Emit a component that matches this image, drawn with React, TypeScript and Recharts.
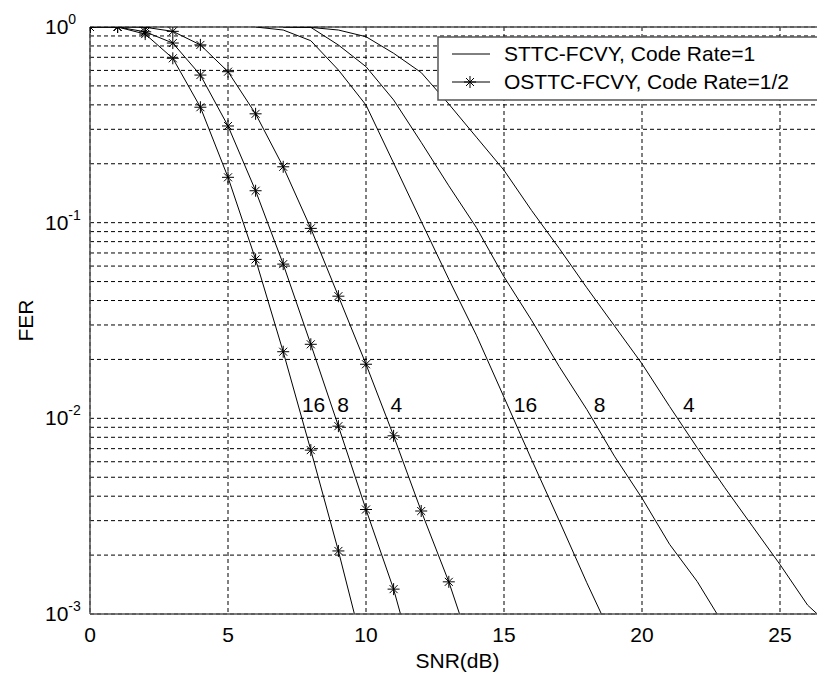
import React from 'react';
import { LineChart, Line, XAxis, YAxis, CartesianGrid, ReferenceLine, ReferenceDot, Legend } from 'recharts';

const FONT = '"Liberation Sans", Arial, Helvetica, sans-serif';

// STTC-FCVY, Code Rate = 1 (no markers)
const sttc16Snr = [6, 7, 8, 9, 10, 11, 12, 13, 14, 15, 16, 17, 18, 18.53];
const sttc16Fer = [1.0, 0.965, 0.851, 0.603, 0.399, 0.2017, 0.1016, 0.0514, 0.0266, 0.01282, 0.00615, 0.003, 0.001445, 0.001];
const sttc8Snr = [7, 8, 9, 10, 11, 12, 13, 14, 15, 16, 17, 18, 19, 20, 21, 22, 22.72];
const sttc8Fer = [1.0, 0.996, 0.809, 0.627, 0.424, 0.2574, 0.1543, 0.0944, 0.0529, 0.0317, 0.0184, 0.0111, 0.00641, 0.00391, 0.00227, 0.001466, 0.001];
const sttc4Snr = [7, 8, 9, 10, 11, 12, 13, 14, 15, 16, 17, 18, 19, 20, 21, 22, 23, 24, 25, 26, 26.35];
const sttc4Fer = [1.0, 0.995, 0.965, 0.892, 0.734, 0.585, 0.404, 0.2735, 0.1853, 0.1154, 0.0739, 0.0465, 0.0297, 0.019, 0.0115, 0.00707, 0.00442, 0.00281, 0.00179, 0.00111, 0.001];

// OSTTC-FCVY, Code Rate = 1/2 (star markers)
const osttc16Snr = [0, 1, 2, 3, 4, 5, 6, 7, 8, 9, 9.58];
const osttc16Fer = [1, 1, 0.92, 0.692, 0.389, 0.1705, 0.0649, 0.0219, 0.00688, 0.0021, 0.001];
const osttc8Snr = [0, 1, 2, 3, 4, 5, 6, 7, 8, 9, 10, 11, 11.25];
const osttc8Fer = [1, 1, 0.945, 0.828, 0.568, 0.312, 0.1456, 0.0614, 0.0239, 0.00912, 0.00342, 0.00134, 0.001];
const osttc4Snr = [0, 1, 2, 3, 4, 5, 6, 7, 8, 9, 10, 11, 12, 13, 13.39];
const osttc4Fer = [1, 1, 0.997, 0.95, 0.81, 0.591, 0.36, 0.193, 0.0935, 0.0421, 0.0189, 0.00814, 0.00336, 0.00146, 0.001];

// curve annotations
const labelTexts = ['16', '8', '4', '16', '8', '4'];
const labelSnr = [8.1, 9.17, 11.1, 15.78, 18.46, 21.7];
const labelFer = [0.01175, 0.01175, 0.01175, 0.01175, 0.01175, 0.01175];

const xTicks = [0, 5, 10, 15, 20, 25];
const yTicks = [
  0.001, 0.002, 0.003, 0.004, 0.005, 0.006, 0.007, 0.008, 0.009,
  0.01, 0.02, 0.03, 0.04, 0.05, 0.06, 0.07, 0.08, 0.09,
  0.1, 0.2, 0.3, 0.4, 0.5, 0.6, 0.7, 0.8, 0.9, 1,
];

const legendNames = ['STTC-FCVY, Code Rate=1', 'OSTTC-FCVY, Code Rate=1/2'];

const toPoints = (snr: number[], fer: number[]) => snr.map((s, i) => ({ snr: s, fer: fer[i] }));

const Star = ({ cx, cy }: { cx: number; cy: number }) => (
  <g stroke="#000" strokeWidth={1}>
    <line x1={cx - 6} y1={cy} x2={cx + 6} y2={cy} />
    <line x1={cx} y1={cy - 6} x2={cx} y2={cy + 6} />
    <line x1={cx - 4} y1={cy - 4} x2={cx + 4} y2={cy + 4} />
    <line x1={cx - 4} y1={cy + 4} x2={cx + 4} y2={cy - 4} />
  </g>
);

const starDot = (props: any) => {
  const { cx, cy, payload, index } = props;
  if (!payload || payload.fer <= 0.001 || cx == null || cy == null) return <g key={`e${index}`} />;
  return <g key={`s${index}`}><Star cx={cx} cy={cy} /></g>;
};

const YTick = (props: any) => {
  const { y, payload } = props;
  const v = payload.value;
  const e = Math.round(Math.log10(v));
  if (Math.abs(v - Math.pow(10, e)) > 1e-9) return <g />;
  return (
    <text x={37} y={y + 7} fontSize={21} fontFamily={FONT} fill="#000">
      10<tspan dy={-10} fontSize={14}>{String(e)}</tspan>
    </text>
  );
};

const XTick = (props: any) => {
  const { x, y, payload } = props;
  return (
    <text x={x} y={y + 28} fontSize={21} fontFamily={FONT} fill="#000" textAnchor="middle">
      {payload.value}
    </text>
  );
};

const XLabel = (props: any) => {
  const { viewBox } = props;
  return (
    <text x={viewBox.x + viewBox.width / 2} y={viewBox.y + 54} fontSize={21} fontFamily={FONT} fill="#000" textAnchor="middle">
      SNR(dB)
    </text>
  );
};

const YLabel = (props: any) => {
  const { viewBox } = props;
  const cy = viewBox.y + viewBox.height / 2;
  return (
    <text x={25} y={cy} fontSize={21} fontFamily={FONT} fill="#000" textAnchor="middle" transform={`rotate(-90, 25, ${cy})`}>
      FER
    </text>
  );
};

const LegendBox = () => (
  <svg width={386} height={66} style={{ display: 'block' }}>
    <rect x={1} y={1} width={383} height={63} fill="#fff" stroke="#555" strokeWidth={1.5} />
    <line x1={15} y1={18} x2={53} y2={18} stroke="#000" strokeWidth={1} />
    <text x={67} y={25} fontSize={21} fontFamily={FONT} fill="#000">{legendNames[0]}</text>
    <line x1={15} y1={46} x2={53} y2={46} stroke="#000" strokeWidth={1} />
    <Star cx={33} cy={46} />
    <text x={67} y={53} fontSize={21} fontFamily={FONT} fill="#000">{legendNames[1]}</text>
  </svg>
);

const CurveLabel = (props: any) => {
  const { viewBox, value } = props;
  const cx = viewBox.x + (viewBox.width || 0) / 2;
  const cy = viewBox.y + (viewBox.height || 0) / 2;
  return (
    <text x={cx} y={cy + 7.5} fontSize={21} fontFamily={FONT} fill="#000" textAnchor="middle">
      {value}
    </text>
  );
};

export default function App() {
  const sttc = [toPoints(sttc16Snr, sttc16Fer), toPoints(sttc8Snr, sttc8Fer), toPoints(sttc4Snr, sttc4Fer)];
  const osttc = [toPoints(osttc16Snr, osttc16Fer), toPoints(osttc8Snr, osttc8Fer), toPoints(osttc4Snr, osttc4Fer)];
  return (
    <div style={{ width: 817, height: 668, position: 'relative' }}>
      <LineChart width={817} height={668} margin={{ top: 19, right: 0, bottom: 0, left: 0 }}>
        <CartesianGrid stroke="#000" strokeDasharray="4 3" strokeWidth={1} />
        <XAxis
          dataKey="snr"
          type="number"
          domain={[0, 26.63]}
          ticks={xTicks}
          allowDataOverflow
          height={62}
          tickSize={0}
          tickMargin={0}
          tickLine={false}
          tick={<XTick />}
          axisLine={{ stroke: '#555', strokeWidth: 1.5 }}
          label={<XLabel />}
        />
        <YAxis
          dataKey="fer"
          type="number"
          scale="log"
          domain={[0.001, 1]}
          ticks={yTicks}
          allowDataOverflow
          width={82}
          tickSize={0}
          tickMargin={0}
          tickLine={false}
          tick={<YTick />}
          interval={0}
          axisLine={{ stroke: '#555', strokeWidth: 1.5 }}
          label={<YLabel />}
        />
        <ReferenceLine y={1} stroke="#555" strokeWidth={1.5} />
        {sttc.map((d, i) => (
          <Line key={`sttc${i}`} data={d} dataKey="fer" type="linear" stroke="#000" strokeWidth={1} dot={false} isAnimationActive={false} />
        ))}
        {osttc.map((d, i) => (
          <Line key={`osttc${i}`} data={d} dataKey="fer" type="linear" stroke="#000" strokeWidth={1} dot={starDot} activeDot={false} isAnimationActive={false} />
        ))}
        {labelTexts.map((t, i) => (
          <ReferenceDot key={`lab${i}`} x={labelSnr[i]} y={labelFer[i]} r={0} fill="none" stroke="none" label={<CurveLabel value={t} />} />
        ))}
        <Legend
          layout="horizontal"
          verticalAlign="middle"
          align="center"
          wrapperStyle={{ position: 'absolute', left: 429, top: 28, width: 386, height: 66 }}
          content={() => <LegendBox />}
        />
      </LineChart>
    </div>
  );
}
